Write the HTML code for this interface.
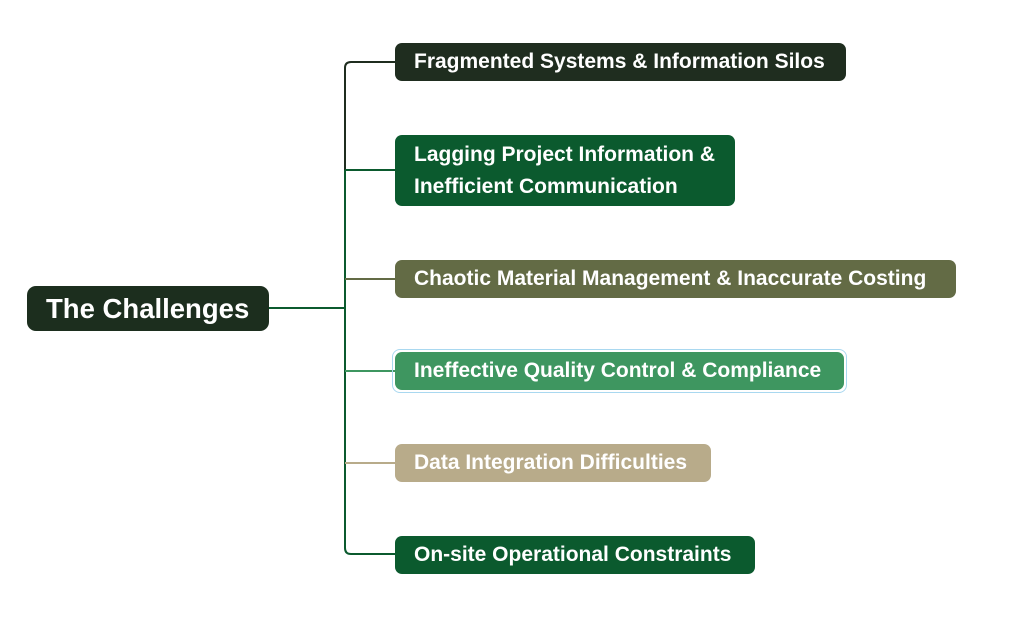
<!DOCTYPE html>
<html><head><style>
body{margin:0;width:1024px;height:644px;background:#fff;position:relative;overflow:hidden;font-family:"Liberation Sans",sans-serif;}
.b{position:absolute;color:#fff;font-weight:bold;font-size:21px;border-radius:7px;box-sizing:border-box;padding-left:19px;display:flex;align-items:center;line-height:32px;}
</style></head><body>
<svg width="1024" height="644" style="position:absolute;left:0;top:0">
<g fill="none" stroke-width="2">
<path d="M269 308 H345" stroke="#0b5a2e"/>
<path d="M395 62 H351 Q345 62 345 68 V170" stroke="#1f2d1f"/>
<path d="M345 170 V548 Q345 554 351 554 H395" stroke="#0b5a2e"/>
<path d="M345 170 H395" stroke="#0b5a2e"/>
<path d="M345 279 H395" stroke="#636b45"/>
<path d="M345 371 H395" stroke="#3e9660"/>
<path d="M345 463 H395" stroke="#b8ab8a"/>
</g></svg>
<div class="b" style="left:27px;top:286px;width:242px;height:45px;background:#1c2e1e;font-size:27.5px;padding-left:19px;border-radius:9px">The Challenges</div>
<div class="b" style="left:395px;top:43px;width:451px;height:38px;background:#1f2d1f">Fragmented Systems &amp; Information Silos</div>
<div class="b" style="left:395px;top:135px;width:340px;height:71px;background:#0b5a2e">Lagging Project Information &amp;<br>Inefficient Communication</div>
<div class="b" style="left:395px;top:260px;width:561px;height:38px;background:#636b45">Chaotic Material Management &amp; Inaccurate Costing</div>
<div style="position:absolute;left:392px;top:349px;width:453px;height:42px;border:1px solid #a9d8f0;border-radius:8px"></div>
<div class="b" style="left:395px;top:352px;width:449px;height:38px;background:#3e9660">Ineffective Quality Control &amp; Compliance</div>
<div class="b" style="left:395px;top:444px;width:316px;height:38px;background:#b8ab8a">Data Integration Difficulties</div>
<div class="b" style="left:395px;top:536px;width:360px;height:38px;background:#0b5a2e">On-site Operational Constraints</div>
</body></html>
